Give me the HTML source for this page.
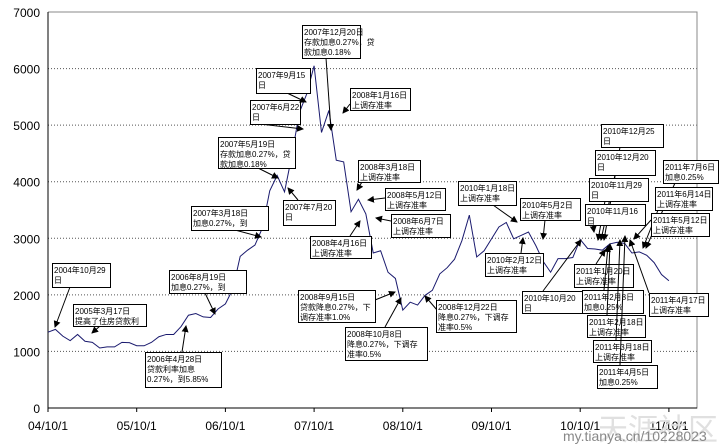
<!DOCTYPE html>
<html><head><meta charset="utf-8">
<style>
html,body{margin:0;padding:0;background:#fff;}
svg{display:block;font-family:"Liberation Sans","Noto Sans CJK SC",sans-serif;}
</style></head>
<body>
<svg id="chart" width="725" height="445" viewBox="0 0 725 445"></svg>
<script>
// Monthly closing values, Oct 2004 onward
const startMonth = [2004, 10];
const indexValues = [
 1340,1390,1270,
 1190,1300,1180,1160,1060,1080,1080,1160,1155,1100,1100,1160,
 1260,1300,1300,1440,1640,1670,1610,1600,1750,1840,2100,2680,
 2790,2880,3180,3840,4110,3820,4470,5220,5550,6050,4870,5260,
 4380,4350,3470,3690,3430,2740,2780,2400,2290,1730,1870,1820,
 1990,2080,2370,2480,2630,2960,3410,2670,2780,2990,3200,3280,
 2990,3050,3110,2870,2590,2400,2640,2640,2660,2980,2820,2810,
 2790,2900,2930,2910,2740,2760,2700,2570,2360,2250
];
const yTicks = [0,1000,2000,3000,4000,5000,6000,7000];
const xTickLabels = ["04/10/1","05/10/1","06/10/1","07/10/1","08/10/1","09/10/1","10/10/1","11/10/1"];

const svg = document.getElementById('chart');
const NS = 'http://www.w3.org/2000/svg';
const L = 48, R = 697, T = 12, B = 408;
const yScale = v => B - (v / 7000) * (B - T);
const monthW = 88.7 / 12;
const xScale = m => L + m * monthW;

function mk(tag, attrs, parent) {
  const e = document.createElementNS(NS, tag);
  for (const k in attrs) e.setAttribute(k, attrs[k]);
  (parent || svg).appendChild(e);
  return e;
}

const defs = mk('defs', {});
const mkr = mk('marker', {id:'ah', markerWidth:'7', markerHeight:'7', refX:'6', refY:'3.5', orient:'auto'}, defs);
mk('path', {d:'M0,0 L7,3.5 L0,7 z', fill:'#000'}, mkr);

yTicks.forEach(v => {
  const y = yScale(v);
  if (v > 0) {
    const g = mk('line', {x1:L, x2:R, y1:y, y2:y, stroke:'#555', 'stroke-width':'1', 'stroke-dasharray':'1,2'});
    
    
  }
  const t = mk('text', {x:40, y:y+5, 'text-anchor':'end', 'font-size':'12', fill:'#000'});
  t.textContent = v;
  
  
});

const ax = mk('path', {d:`M${L},${T} L${L},${B} L${R},${B} L${R},${T} L${L},${T}`, fill:'none', stroke:'#888', 'stroke-width':'1'});


mk('line', {x1:L, x2:L, y1:T, y2:B, stroke:'#000'});
mk('line', {x1:L, x2:R, y1:B, y2:B, stroke:'#000'});

xTickLabels.forEach((lab, i) => {
  const x = xScale(i * 12);
  mk('line', {x1:x, x2:x, y1:B, y2:B+4, stroke:'#000'});
  const t = mk('text', {x:x, y:430, 'text-anchor':'middle', 'font-size':'12', fill:'#000'});
  t.textContent = lab;
  
  
});

const pts = indexValues.map((v, i) => xScale(i) + ',' + yScale(v)).join(' ');
const line = mk('polyline', {points:pts, fill:'none', stroke:'#1a1a6e', 'stroke-width':'1'});



const notes = [
 [52,263,58,24,["2004年10月29","日"],70,287,55,327],
 [73,304,73,22,["2005年3月17日","提高了住房贷款利"],100,326,92,333],
 [145,352,76,35,["2006年4月28日","贷款利率加息","0.27%，到5.85%"],182,352,186,326],
 [169,270,77,23,["2006年8月19日","加息0.27%，到"],205,293,215,314],
 [191,206,77,24,["2007年3月18日","加息0.27%，到"],235,230,261,237],
 [218,137,77,31,["2007年5月19日","存款加息0.27%，贷","款加息0.18%"],258,168,278,178],
 [250,100,50,24,["2007年6月22","日"],260,124,303,129],
 [256,68,54,25,["2007年9月15","日"],287,93,306,102],
 [302,25,58,33,["2007年12月20日","存款加息0.27%，贷","款加息0.18%"],326,58,331,130],
 [350,88,60,22,["2008年1月16日","上调存准率"],350,104,343,113],
 [283,200,52,25,["2007年7月20","日"],298,200,288,188],
 [358,160,62,22,["2008年3月18日","上调存准率"],362,182,357,190],
 [385,188,60,22,["2008年5月12日","上调存准率"],385,198,368,200],
 [391,214,59,23,["2008年6月7日","上调存准率"],391,221,376,218],
 [310,236,61,22,["2008年4月16日","上调存准率"],350,236,360,221],
 [298,290,77,32,["2008年9月15日","贷款降息0.27%，下","调存准率1.0%"],375,300,395,292],
 [345,327,82,33,["2008年10月8日","降息0.27%，下调存","准率0.5%"],385,327,401,298],
 [436,300,80,32,["2008年12月22日","降息0.27%，下调存","准率0.5%"],437,310,425,296],
 [458,181,58,24,["2010年1月18日","上调存准率"],493,205,517,222],
 [520,198,60,22,["2010年5月2日","上调存准率"],545,220,543,239],
 [485,253,58,23,["2010年2月12日","上调存准率"],521,253,523,238],
 [522,291,60,22,["2010年10月20","日"],543,291,581,240],
 [601,124,62,23,["2010年12月25","日"],620,147,604,240],
 [595,150,60,25,["2010年12月20","日"],615,175,601,240],
 [589,178,59,23,["2010年11月29","日"],605,201,598,240],
 [585,204,60,21,["2010年11月16","日"],593,225,594,232],
 [574,264,59,23,["2011年1月20日","上调存准率"],596,264,605,250],
 [582,290,61,23,["2011年2月8日","加息0.25%"],604,290,608,246],
 [587,315,58,22,["2011年2月18日","上调存准率"],607,315,610,244],
 [593,340,58,22,["2011年3月18日","上调存准率"],616,340,620,240],
 [597,365,60,23,["2011年4月5日","加息0.25%"],620,365,625,236],
 [663,160,55,23,["2011年7月6日","加息0.25%"],675,183,646,248],
 [655,187,57,23,["2011年6月14日","上调存准率"],660,205,643,248],
 [651,213,58,23,["2011年5月12日","上调存准率"],651,220,634,239],
 [649,293,59,23,["2011年4月17日","上调存准率"],649,293,630,240]
];
notes.forEach(n => {
  const [x,y,w,h,lines,fx,fy,tx,ty] = n;
  const g = mk('g', {});
  
  
  mk('line', {x1:fx, y1:fy, x2:tx, y2:ty, stroke:'#000', 'stroke-width':'1', 'marker-end':'url(#ah)'}, g);
  mk('rect', {x:x+0.5, y:y+0.5, width:w, height:h, fill:'#fff', stroke:'#000', 'stroke-width':'1'}, g);
  lines.forEach((s, i) => {
    const t = mk('text', {x:x+2, y:y+10+i*10, 'font-size':'8', fill:'#000'}, g);
    t.textContent = s;
  });
});

const w1 = mk('text', {x:598, y:440, 'font-size':'30', fill:'#ddd', opacity:'0.9'});
w1.textContent = '天涯社区';


const w2 = mk('text', {x:563, y:441, 'font-size':'14', fill:'#888'});
w2.textContent = 'my.tianya.cn/10228023';


</script>
</body></html>
